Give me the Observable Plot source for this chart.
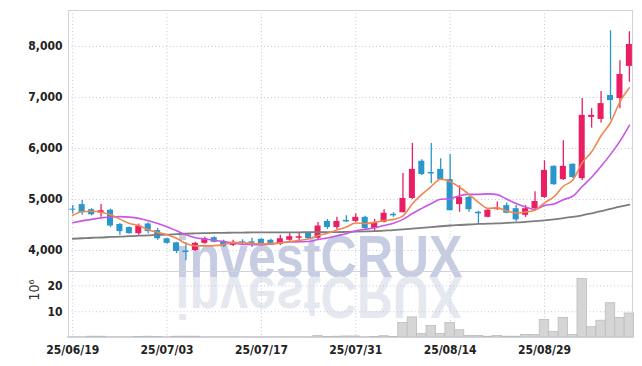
<!DOCTYPE html>
<html><head><meta charset="utf-8">
<script src="https://cdn.jsdelivr.net/npm/d3@7"></script>
<script src="https://cdn.jsdelivr.net/npm/@observablehq/plot@0.6"></script>
<style>
body{margin:0;background:#fff;}
#wrap{position:relative;width:642px;height:366px;}
#wm{position:absolute;left:0;top:0;z-index:0;}
#chart{position:relative;z-index:1;}
#chart svg{display:block;}
</style>
</head><body>
<div id="wrap"><svg id="wm" width="642" height="366"></svg><div id="chart"></div></div>
<script>
const dates = ["2025-06-19","2025-06-20","2025-06-23","2025-06-24","2025-06-25","2025-06-26","2025-06-27","2025-06-30","2025-07-01","2025-07-02","2025-07-03","2025-07-04","2025-07-07","2025-07-08","2025-07-09","2025-07-10","2025-07-11","2025-07-14","2025-07-15","2025-07-16","2025-07-17","2025-07-18","2025-07-21","2025-07-22","2025-07-23","2025-07-24","2025-07-25","2025-07-28","2025-07-29","2025-07-30","2025-07-31","2025-08-01","2025-08-04","2025-08-05","2025-08-06","2025-08-07","2025-08-08","2025-08-11","2025-08-12","2025-08-13","2025-08-14","2025-08-18","2025-08-19","2025-08-20","2025-08-21","2025-08-22","2025-08-25","2025-08-26","2025-08-27","2025-08-28","2025-08-29","2025-09-01","2025-09-02","2025-09-03","2025-09-04","2025-09-05","2025-09-08","2025-09-09","2025-09-10","2025-09-11"];
const open  = [4810,4900,4800,4740,4790,4510,4450,4330,4520,4390,4230,4150,3990,4000,4140,4250,4180,4100,4170,4170,4220,4200,4120,4200,4240,4340,4240,4570,4450,4590,4570,4650,4430,4550,4710,4740,5020,5750,5530,5590,5390,4900,5040,4750,4650,4800,4880,4820,4690,4820,5040,5650,5390,5690,5410,6610,6570,7040,6980,7610];
const high  = [4880,4980,4820,4900,4810,4530,4460,4520,4540,4430,4240,4160,4150,4160,4260,4270,4200,4200,4210,4240,4230,4220,4300,4330,4350,4350,4550,4610,4650,4680,4720,4670,4610,4800,4740,5510,6100,5780,6100,5800,5880,5270,5060,4770,4800,4950,4930,4880,4880,5150,5760,5660,6150,5700,6980,6780,7120,8310,7720,8290];
const low   = [4720,4690,4680,4650,4450,4300,4320,4300,4330,4200,4120,3940,3800,3980,4120,4150,4060,4080,4100,4060,4100,4100,4100,4180,4180,4220,4200,4410,4410,4550,4550,4390,4370,4540,4650,4740,5000,5470,5310,5370,4780,4750,4750,4530,4640,4790,4720,4570,4650,4780,5020,5280,5370,5410,5370,6400,6500,6560,6780,7300];
const close = [4790,4745,4700,4780,4480,4370,4330,4480,4370,4230,4140,3980,3960,4140,4230,4160,4080,4160,4140,4140,4120,4120,4230,4270,4270,4230,4480,4450,4570,4560,4650,4430,4550,4730,4680,5020,5590,5490,5500,5390,4780,5040,4800,4720,4790,4830,4730,4600,4820,4960,5570,5290,5650,5430,6650,6650,6880,6940,7450,8040];
const volume = [0.1,0.1,0.3,0.3,0.1,0.1,0.1,0.2,0.3,0.2,0.1,0.3,0.3,0.3,0.1,0.1,0.1,0.1,0.1,0.1,0.1,0.1,0.1,0.1,0.1,0.1,0.6,0.2,0.3,0.4,0.4,0.1,0.2,0.5,0.2,5.6,7.8,1.4,4.5,1.4,5.6,2.8,0.6,0.6,0.3,0.6,0.3,0.3,1.0,1.0,6.8,2.1,7.6,1.0,22.7,4.0,6.5,13.3,7.6,9.3];
const ma5  = [4690,4760,4770,4750,4700,4615,4530,4490,4405,4355,4310,4240,4135,4090,4090,4095,4115,4155,4155,4135,4130,4135,4150,4175,4200,4225,4295,4340,4400,4460,4540,4530,4550,4585,4610,4680,4915,5100,5255,5400,5350,5240,5100,4945,4825,4835,4775,4735,4755,4790,4935,5050,5260,5380,5720,5935,6250,6510,6915,7190];
const ma10 = [4545,4580,4610,4640,4655,4665,4655,4630,4585,4530,4465,4385,4310,4250,4225,4200,4175,4145,4120,4115,4110,4125,4150,4165,4170,4175,4215,4245,4290,4330,4385,4415,4445,4490,4535,4610,4725,4825,4920,5005,5015,5075,5100,5100,5110,5095,5005,4920,4850,4805,4885,4910,4995,5065,5255,5435,5650,5885,6145,6455];
const maLong = [4230,4240,4250,4255,4265,4270,4280,4290,4295,4305,4310,4320,4330,4335,4340,4345,4345,4350,4350,4355,4355,4355,4355,4355,4355,4360,4360,4360,4360,4365,4370,4375,4380,4390,4400,4415,4430,4445,4460,4475,4490,4500,4510,4520,4525,4530,4540,4550,4560,4575,4590,4610,4635,4660,4690,4730,4770,4815,4860,4900];
const tickIdx = [0,10,20,30,40,50];
const tickLabels = ["25/06/19","25/07/03","25/07/17","25/07/31","25/08/14","25/08/29"];
const priceTicks = [4000,5000,6000,7000,8000];
const volTicks = [10,20];
const volUnit = "10⁶";
const watermark = "investCRUX";

const rows = dates.map((d,i)=>({i, date:d, o:open[i], h:high[i], l:low[i], c:close[i], v:volume[i], ma5:ma5[i], ma10:ma10[i], maL:maLong[i]}));
const UP = "#e91e63", DOWN = "#2a96c9";
const colorOf = d => d.c >= d.o ? UP : DOWN;
const xDomain = [-0.45, 59.33];
const FONT = "'DejaVu Sans Condensed', 'DejaVu Sans', sans-serif";
const GRID = {stroke:"#c3c6dc", strokeOpacity:1, strokeDasharray:"1,2.5", strokeWidth:1};
const fmtX = d => tickLabels[tickIdx.indexOf(d)];

const price = Plot.plot({
  width:642, height:271, marginLeft:68, marginRight:10, marginTop:10, marginBottom:0,
  style:{fontFamily:FONT, fontSize:"12px", fontWeight:"bold", color:"#222", background:"transparent"},
  x:{domain:xDomain, axis:null},
  y:{domain:[3588,8706], ticks:priceTicks, tickFormat:d3.format(","), label:null, tickSize:0, tickPadding:6},
  marks:[
    Plot.gridY(priceTicks, GRID),
    Plot.gridX(tickIdx, GRID),
    Plot.frame({stroke:"#cfd1dc"}),
    Plot.ruleX(rows, {x:"i", y1:"l", y2:"h", stroke:colorOf, strokeWidth:1.3}),
    Plot.rect(rows, {x1:d=>d.i-0.32, x2:d=>d.i+0.32, y1:"o", y2:"c", fill:colorOf}),
    Plot.line(rows, {x:"i", y:"maL", stroke:"#7d7d7d", strokeWidth:1.8, curve:"monotone-x"}),
    Plot.line(rows, {x:"i", y:"ma10", stroke:"#c955e4", strokeWidth:1.6, curve:"monotone-x"}),
    Plot.line(rows, {x:"i", y:"ma5", stroke:"#ef8752", strokeWidth:1.6, curve:"monotone-x"})
  ]
});

const vol = Plot.plot({
  width:642, height:95, marginLeft:68, marginRight:10, marginTop:0, marginBottom:29,
  style:{fontFamily:FONT, fontSize:"12px", fontWeight:"bold", color:"#222", background:"transparent"},
  x:{domain:xDomain, axis:null},
  y:{domain:[0,25.6], ticks:volTicks, label:null, tickSize:0, tickPadding:6},
  marks:[
    Plot.gridY(volTicks, GRID),
    Plot.gridX(tickIdx, GRID),
    Plot.rect(rows, {x1:d=>d.i-0.5, x2:d=>d.i+0.5, y1:0, y2:"v", fill:"#d5d5d5", stroke:"#bcbcbc", strokeWidth:0.8}),
    Plot.frame({stroke:"#cfd1dc"}),
    Plot.axisX(tickIdx, {tickFormat:fmtX, tickSize:0, tickPadding:8, fontSize:12, fontWeight:"bold"}),
    Plot.text([volUnit], {frameAnchor:"left", dx:-34, dy:-4, rotate:-90, fontSize:14, fontWeight:"normal", fill:"#333"})
  ]
});

document.getElementById("chart").append(price, vol);

// watermark (behind the charts)
const wm = d3.select("#wm");
wm.append("text").attr("x",319).attr("y",277).attr("text-anchor","middle")
  .attr("font-family","'Liberation Sans', Arial, sans-serif").attr("font-weight","bold").attr("font-size",60)
  .attr("textLength",287).attr("lengthAdjust","spacingAndGlyphs")
  .attr("fill","#c6cce2").text(watermark);
wm.append("g").attr("transform","translate(0,554) scale(1,-1)")
  .append("text").attr("x",319).attr("y",277).attr("text-anchor","middle")
  .attr("font-family","'Liberation Sans', Arial, sans-serif").attr("font-weight","bold").attr("font-size",60)
  .attr("textLength",287).attr("lengthAdjust","spacingAndGlyphs")
  .attr("fill","#e6e8f0").text(watermark);
</script>
</body></html>
